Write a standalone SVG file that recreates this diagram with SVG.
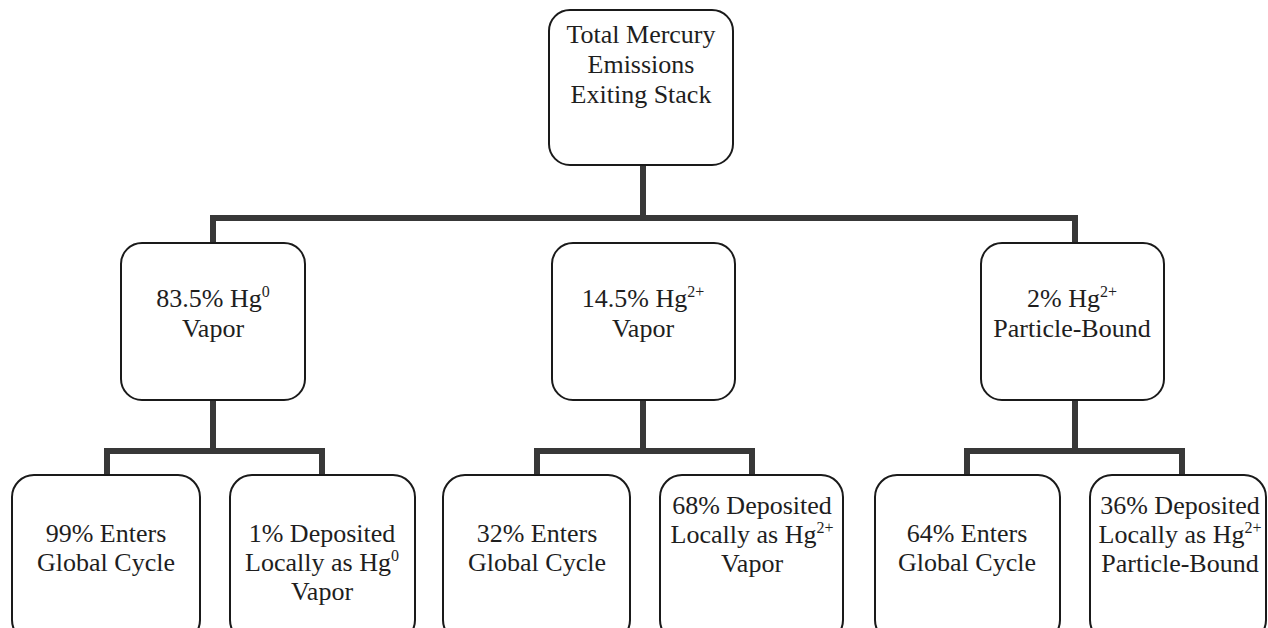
<svg xmlns="http://www.w3.org/2000/svg" width="1268" height="628" viewBox="0 0 1268 628">
<style>
.box{fill:#fff;stroke:#1a1a1a;stroke-width:2}
.t{font-family:"Liberation Serif","Times New Roman",serif;font-size:26px;fill:#1e1e1e;text-anchor:middle}
.sup{font-size:16px}
.conn{fill:none;stroke:#383838;stroke-width:6;stroke-linecap:square;stroke-linejoin:miter}
</style>
<rect width="1268" height="628" fill="#fff"/>
<g id="connectors">
<path class="conn" d="M643,166 V218 M213,242 V218 H1075 V242"/>
<path class="conn" d="M213,401 V451 M107,474 V451 H322 V474"/>
<path class="conn" d="M643,401 V451 M537,474 V451 H752 V474"/>
<path class="conn" d="M1075,401 V451 M967,474 V451 H1182 V474"/>
</g>
<g id="n-total">
<rect class="box" x="549" y="10" width="184" height="155" rx="21"/>
<text class="t" x="641" y="43">Total Mercury</text>
<text class="t" x="641" y="73">Emissions</text>
<text class="t" x="641" y="103">Exiting Stack</text>
</g>
<g id="n-hg0">
<rect class="box" x="121" y="243" width="184" height="157" rx="21"/>
<text class="t" x="213" y="307">83.5% Hg<tspan class="sup" dy="-10">0</tspan></text>
<text class="t" x="213" y="337">Vapor</text>
</g>
<g id="n-hg2v">
<rect class="box" x="552" y="243" width="183" height="157" rx="21"/>
<text class="t" x="643" y="307">14.5% Hg<tspan class="sup" dy="-10">2+</tspan></text>
<text class="t" x="643" y="337">Vapor</text>
</g>
<g id="n-hg2p">
<rect class="box" x="981" y="243" width="183" height="157" rx="21"/>
<text class="t" x="1072" y="307">2% Hg<tspan class="sup" dy="-10">2+</tspan></text>
<text class="t" x="1072" y="337">Particle-Bound</text>
</g>
<g id="n-b1">
<rect class="box" x="12" y="475" width="188" height="167" rx="22"/>
<text class="t" x="106" y="542">99% Enters</text>
<text class="t" x="106" y="571">Global Cycle</text>
</g>
<g id="n-b2">
<rect class="box" x="230" y="475" width="185" height="167" rx="22"/>
<text class="t" x="322" y="542">1% Deposited</text>
<text class="t" x="322" y="571">Locally as Hg<tspan class="sup" dy="-10">0</tspan></text>
<text class="t" x="322" y="600">Vapor</text>
</g>
<g id="n-b3">
<rect class="box" x="443" y="475" width="187" height="167" rx="22"/>
<text class="t" x="537" y="542">32% Enters</text>
<text class="t" x="537" y="571">Global Cycle</text>
</g>
<g id="n-b4">
<rect class="box" x="660" y="475" width="183" height="167" rx="22"/>
<text class="t" x="752" y="514">68% Deposited</text>
<text class="t" x="752" y="543">Locally as Hg<tspan class="sup" dy="-10">2+</tspan></text>
<text class="t" x="752" y="572">Vapor</text>
</g>
<g id="n-b5">
<rect class="box" x="875" y="475" width="185" height="167" rx="22"/>
<text class="t" x="967" y="542">64% Enters</text>
<text class="t" x="967" y="571">Global Cycle</text>
</g>
<g id="n-b6">
<rect class="box" x="1090" y="475" width="176" height="167" rx="22"/>
<text class="t" x="1180" y="514">36% Deposited</text>
<text class="t" x="1180" y="543">Locally as Hg<tspan class="sup" dy="-10">2+</tspan></text>
<text class="t" x="1180" y="572">Particle-Bound</text>
</g>
</svg>
